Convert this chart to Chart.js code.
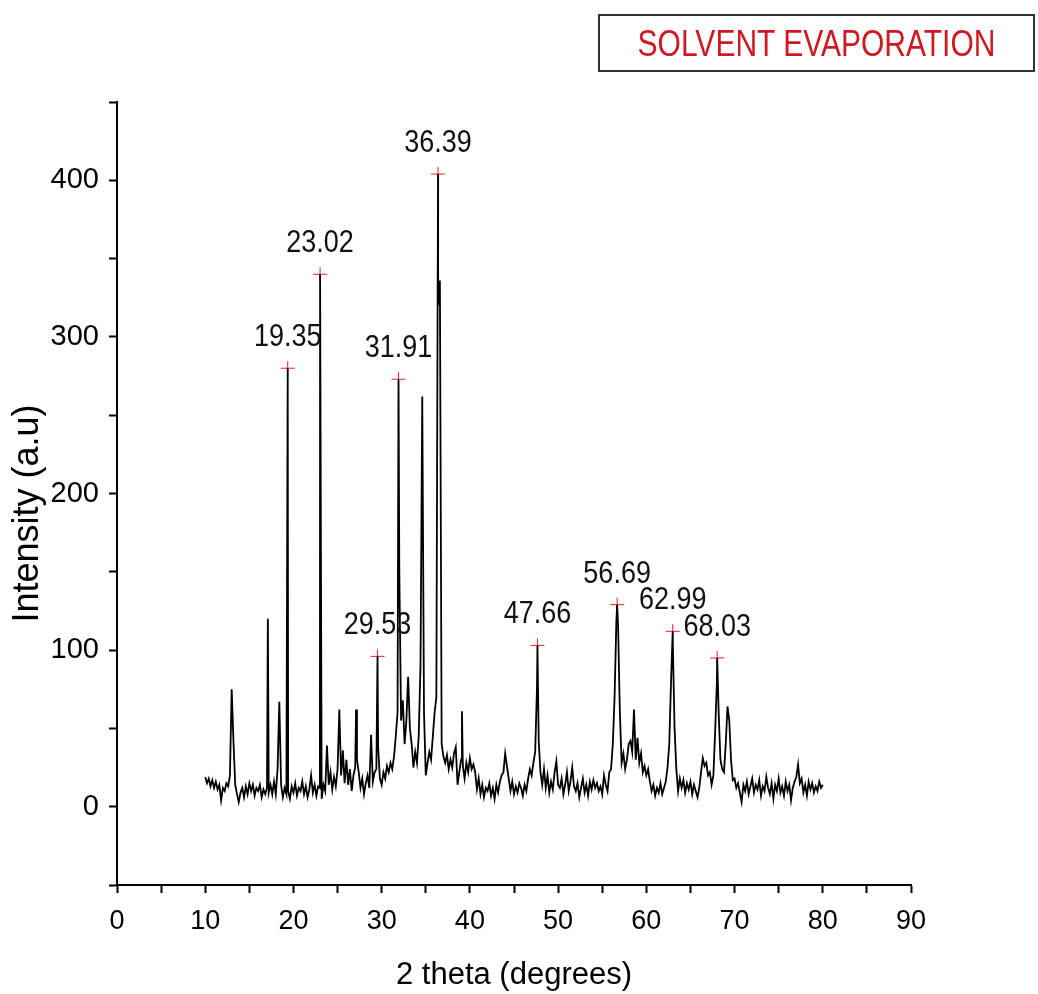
<!DOCTYPE html>
<html>
<head>
<meta charset="utf-8">
<script src="https://cdn.jsdelivr.net/npm/chart.js@4.4.0/dist/chart.umd.min.js"></script>
<style>
  body { margin: 0; background: #fff; }
  .wrap { position: relative; width: 1038px; height: 994px; }
  .title-box {
    position: absolute; left: 598px; top: 14px; width: 437px; height: 58px;
    border: 2px solid #333; box-sizing: border-box; white-space: nowrap;
    text-align: center; line-height: 54px;
  }
  .title-box span {
    display: inline-block; transform: scaleY(1.25);
    color: #d01820; font-family: 'Liberation Sans', Arial, sans-serif; font-size: 30px;
  }
</style>
</head>
<body>
<div class="wrap">
  <canvas id="xrd" width="1038" height="994"></canvas>
  <div class="title-box"><span>SOLVENT EVAPORATION</span></div>
</div>
<script>
var FONT = "'Liberation Sans', Arial, sans-serif";

// scan grid: 10 -> 80 deg, 0.2 deg step
var scanStart = 10;
var scanStep = 0.2;
var scanIntensity = [
  19, 15, 18, 13, 17, 12, 16, 11, 14, 4,
  12, 10, 15, 13, 20, 75, 42, 14, 8, 3,
  9, 12, 6, 13, 8, 15, 10, 14, 7, 12,
  10, 14, 6, 11, 8, 12, 9, 14, 8, 16,
  8, 24, 67, 14, 6, 12, 8, 10, 5, 13,
  9, 15, 7, 12, 10, 16, 8, 13, 6, 11,
  20, 9, 14, 7, 13, 12, 5, 14, 10, 39,
  14, 22, 11, 19, 13, 24, 62, 20, 36, 15,
  30, 14, 24, 10, 20, 25, 30, 22, 12, 18,
  8, 15, 20, 12, 46, 16, 22, 24, 38, 18,
  14, 22, 18, 26, 22, 28, 24, 32, 45, 60,
  150, 55, 68, 40, 55, 83, 50, 40, 25, 35,
  28, 45, 90, 262, 60, 20, 28, 35, 30, 45,
  60, 70, 320, 336, 40, 32, 28, 33, 24, 30,
  25, 34, 38, 14, 22, 30, 26, 18, 28, 22,
  31, 24, 27, 22, 11, 18, 8, 14, 6, 12,
  10, 15, 7, 12, 5, 14, 9, 16, 20, 22,
  34, 26, 18, 10, 16, 8, 13, 9, 15, 12,
  7, 14, 10, 18, 24, 20, 28, 35, 75, 42,
  22, 14, 24, 12, 20, 9, 16, 11, 22, 29,
  14, 12, 18, 8, 14, 22, 10, 16, 25, 13,
  10, 15, 6, 12, 18, 9, 14, 7, 16, 11,
  17, 12, 15, 10, 13, 8, 20, 14, 10, 22,
  24, 40, 70, 118, 115, 60, 28, 34, 24, 30,
  40, 42, 35, 62, 30, 44, 28, 34, 22, 26,
  20, 24, 16, 10, 14, 7, 12, 9, 15, 8,
  12, 16, 25, 40, 80, 105, 50, 24, 10, 18,
  12, 17, 9, 15, 11, 16, 8, 14, 10, 6,
  12, 22, 31, 26, 28, 20, 22, 14, 20, 48,
  80, 60, 30, 24, 22, 40, 64, 55, 30, 17,
  18, 12, 15, 9, 3, 14, 10, 16, 8, 13,
  18, 9, 14, 11, 17, 7, 13, 10, 19, 12,
  8, 15, 5, 14, 10, 18, 9, 13, 7, 16,
  10, 14, 4, 12, 16, 19, 27, 15, 18, 9,
  14, 7, 16, 11, 15, 9, 13, 10, 16, 12,
  14
];

// sharp reflections that fall between grid steps
var spikeAngles = [17.1, 19.35, 23.02, 27.1, 29.53, 31.91, 36.39, 39.1, 47.66, 56.69, 62.99, 68.03];
var spikeIntensity = [120, 280, 340, 62, 96, 273, 404, 61, 103, 129, 112, 95];

// marked peaks
var peakAngles = [19.35, 23.02, 29.53, 31.91, 36.39, 47.66, 56.69, 62.99, 68.03];
var peakIntensity = [280, 340, 96, 273, 404, 103, 129, 112, 95];
var peakLabels = ["19.35", "23.02", "29.53", "31.91", "36.39", "47.66", "56.69", "62.99", "68.03"];

function buildTrace() {
  var pts = [];
  for (var i = 0; i < scanIntensity.length; i++) {
    pts.push({ x: +(scanStart + i * scanStep).toFixed(2), y: scanIntensity[i] });
  }
  for (var j = 0; j < spikeAngles.length; j++) {
    pts.push({ x: spikeAngles[j], y: spikeIntensity[j] });
  }
  pts.sort(function (a, b) { return a.x - b.x; });
  return pts;
}

var peakPoints = peakAngles.map(function (a, i) { return { x: a, y: peakIntensity[i] }; });

// draws the peak positions above the red crosses
var peakLabelPlugin = {
  id: "peakLabels",
  afterDatasetsDraw: function (chart) {
    var meta = chart.getDatasetMeta(1);
    var ctx = chart.ctx;
    ctx.save();
    ctx.fillStyle = "#111";
    ctx.font = "27px " + FONT;
    ctx.textAlign = "center";
    ctx.textBaseline = "alphabetic";
    meta.data.forEach(function (pt, i) {
      // text is a bit taller than wide in the original
      ctx.save();
      ctx.translate(pt.x, pt.y - 22);
      ctx.scale(1, 1.15);
      ctx.fillText(peakLabels[i], 0, 0);
      ctx.restore();
    });
    ctx.restore();
  }
};

new Chart(document.getElementById("xrd"), {
  type: "line",
  data: {
    datasets: [{
      data: buildTrace(),
      borderColor: "#000",
      borderWidth: 1.8,
      pointRadius: 0,
      tension: 0
    }, {
      type: "scatter",
      data: peakPoints,
      pointStyle: "cross",
      pointRadius: 7,
      borderColor: "#e5202a",
      borderWidth: 1,
      backgroundColor: "#e5202a"
    }]
  },
  plugins: [peakLabelPlugin],
  options: {
    responsive: false,
    animation: false,
    devicePixelRatio: 1,
    layout: { padding: { left: 0, top: 102, right: 127, bottom: 0 } },
    plugins: {
      legend: { display: false },
      tooltip: { enabled: false }
    },
    scales: {
      x: {
        type: "linear",
        min: 0,
        max: 90,
        afterFit: function (s) { s.height = 109; },
        border: { display: true, color: "#000", width: 2 },
        grid: { drawOnChartArea: false, drawTicks: true, tickLength: 8, color: "#000", tickWidth: 2 },
        ticks: {
          stepSize: 5,
          autoSkip: false,
          maxRotation: 0,
          padding: 12,
          color: "#000",
          font: { family: FONT, size: 27 },
          callback: function (v) { return v % 10 === 0 ? v : ""; }
        },
        title: {
          display: true,
          text: "2 theta (degrees)",
          color: "#000",
          font: { family: FONT, size: 31 },
          padding: { top: 0, bottom: 0 }
        }
      },
      y: {
        min: -50,
        max: 450,
        afterFit: function (s) { s.width = 117; },
        border: { display: true, color: "#000", width: 2 },
        grid: { drawOnChartArea: false, drawTicks: true, tickLength: 8, color: "#000", tickWidth: 2 },
        ticks: {
          stepSize: 50,
          autoSkip: false,
          padding: 10,
          color: "#000",
          font: { family: FONT, size: 29 },
          callback: function (v) { return v % 100 === 0 ? v : ""; }
        },
        title: {
          display: true,
          text: "Intensity (a.u)    ",
          color: "#000",
          font: { family: FONT, size: 36 },
          padding: { top: 6, bottom: 0 }
        }
      }
    }
  }
});
</script>
</body>
</html>
